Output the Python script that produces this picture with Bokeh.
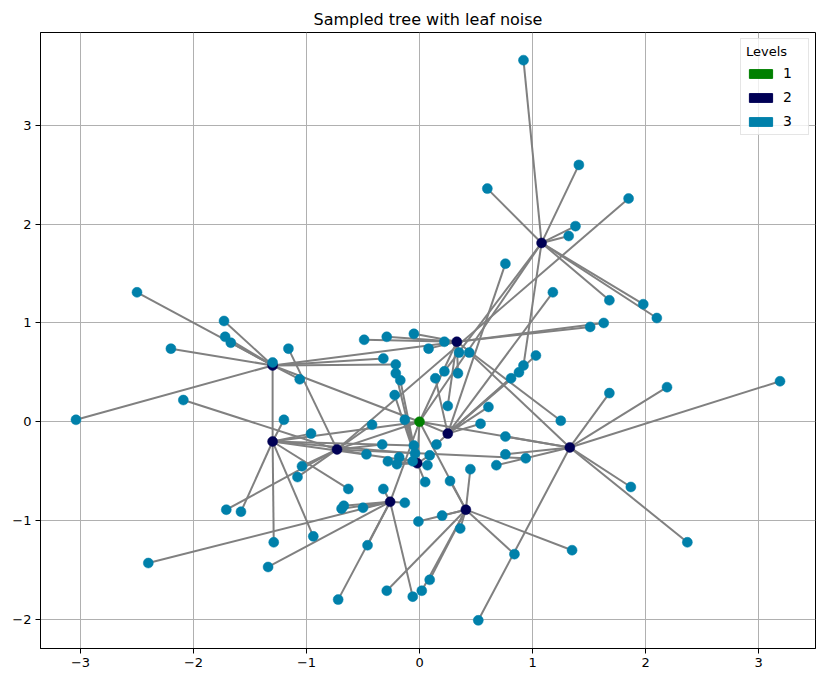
from bokeh.plotting import figure
from bokeh.models import Range1d, Legend, LegendItem, CustomJSTickFormatter, FixedTicker, Title
from bokeh.embed import file_html
from bokeh.resources import INLINE

# ---- data ----
root_x = [0.0]
root_y = [0.0]

mid_x = [1.08, 0.33, -1.30, -1.30, -0.73, 0.25, -0.02, 1.33, 0.41, -0.26]
mid_y = [1.81, 0.81, 0.57, -0.20, -0.28, -0.12, -0.42, -0.26, -0.89, -0.81]

leaf_x = [0.92, 1.41, 0.60, 1.85, 1.38, 1.32, 0.76, 1.18, 1.68, 1.98,
          2.10, 1.51, 1.63, -2.50, -1.73, -1.72, -1.67, -2.20, -1.16, -1.30,
          -0.49, -0.29, -0.05, 0.22, 0.08, 0.35, 0.44, 1.03, 0.92, 0.88,
          0.81, 0.22, 0.34, 0.14, -0.32, -0.21, -0.21, -0.17, -1.06, -0.22,
          0.25, 0.61, 1.68, 2.19, 3.19, -3.04, -2.09, -1.20, -0.13, -0.42,
          0.54, 1.25, -0.96, 0.76, -0.33, -0.05, 0.15, -0.47, -0.04, -0.18,
          -0.28, -0.20, -0.06, 0.09, 0.07, 0.76, 0.94, 0.68, 0.45, -1.04,
          -1.08, 0.05, 0.27, -0.63, -0.32, 1.87, -0.13, -0.50, -0.67, -0.69,
          -1.71, -1.58, -0.01, 0.20, 0.36, -0.94, -1.29, -0.46, 1.35, 0.84,
          2.37, -2.40, -1.34, 0.09, 0.02, -0.06, -0.29, -0.72, 0.52]
leaf_y = [3.66, 2.60, 2.36, 2.26, 1.98, 1.88, 1.60, 1.31, 1.23, 1.19,
          1.05, 0.96, 1.00, 1.31, 1.02, 0.86, 0.80, 0.74, 0.74, 0.60,
          0.83, 0.86, 0.89, 0.81, 0.74, 0.70, 0.70, 0.67, 0.57, 0.50,
          0.44, 0.51, 0.49, 0.44, 0.64, 0.58, 0.49, 0.42, 0.43, 0.27,
          0.16, 0.15, 0.29, 0.35, 0.41, 0.02, 0.22, 0.02, 0.02, -0.03,
          -0.02, 0.01, -0.12, -0.15, -0.23, -0.24, -0.23, -0.33, -0.32, -0.36,
          -0.40, -0.43, -0.40, -0.34, -0.44, -0.33, -0.37, -0.44, -0.48, -0.45,
          -0.56, -0.61, -0.60, -0.68, -0.68, -0.66, -0.82, -0.87, -0.85, -0.88,
          -0.89, -0.91, -1.01, -0.95, -1.08, -1.16, -1.22, -1.25, -1.30, -1.34,
          -1.22, -1.43, -1.47, -1.60, -1.71, -1.77, -1.71, -1.80, -2.01]
leaf_parent = [0, 0, 0, 4, 0, 0, 5, 5, 0, 0,
               0, 1, 2, 2, 2, 2, 2, 2, 4, 3,
               1, 1, 1, 1, 1, 1, 7, 5, 0, 5,
               5, 0, 1, 5, 2, 2, 6, 6, 2, 6,
               1, 5, 7, 7, 7, 2, 4, 3, 6, 4,
               5, 1, 3, 7, 4, 3, 5, 4, 3, 6,
               6, 6, 3, 6, 6, 7, 4, 7, 8, 4,
               4, 6, 8, 3, 9, 7, 9, 9, 9, 9,
               4, 3, 8, 8, 8, 3, 3, 9, 8, 8,
               7, 9, 9, 8, 8, 9, 8, 9, 7]

level_labels = ["1", "2", "3"]
level_colors = ["#008000", "#000055", "#0080AA"]

# ---- edges built from data ----
e_x0 = [root_x[0]] * len(mid_x) + [mid_x[k] for k in leaf_parent]
e_y0 = [root_y[0]] * len(mid_y) + [mid_y[k] for k in leaf_parent]
e_x1 = list(mid_x) + list(leaf_x)
e_y1 = list(mid_y) + list(leaf_y)

FONT = "DejaVu Sans"
NAN = float("nan")

p = figure(width=820, height=680, output_backend="svg", toolbar_location=None,
           x_range=Range1d(-3.354, 3.504), y_range=Range1d(-2.295, 3.94),
           min_border_left=40, min_border_right=5, min_border_top=32, min_border_bottom=32)

p.title = Title(text="Sampled tree with leaf noise", align="center",
                text_font=FONT, text_font_size="16px", text_font_style="normal",
                text_color="black", standoff=7, offset=0)

p.segment(x0=e_x0, y0=e_y0, x1=e_x1, y1=e_y1, line_color="#808080", line_width=2)

r1 = p.scatter(x=root_x, y=root_y, size=10, marker="circle",
               fill_color=level_colors[0], line_color=level_colors[0], line_width=0.5)
r2 = p.scatter(x=mid_x, y=mid_y, size=10, marker="circle",
               fill_color=level_colors[1], line_color=level_colors[1], line_width=0.5)
r3 = p.scatter(x=leaf_x, y=leaf_y, size=10, marker="circle",
               fill_color=level_colors[2], line_color=level_colors[2], line_width=0.5)

# legend patches (proxy glyphs, not visible in the plot area)
lg = []
for lab, col in zip(level_labels, level_colors):
    rr = p.quad(left=[NAN], right=[NAN], top=[NAN], bottom=[NAN],
                fill_color=col, line_color=col)
    lg.append(LegendItem(label=lab, renderers=[rr], index=0))

legend = Legend(items=lg, location="top_right", title="Levels",
                title_text_font=FONT, title_text_font_size="13px", title_text_font_style="normal",
                title_text_color="black",
                label_text_font=FONT, label_text_font_size="14px", label_text_color="black",
                glyph_width=29, glyph_height=11, label_standoff=8,
                spacing=8, padding=5, margin=6,
                border_line_color="#cccccc", border_line_width=1,
                background_fill_alpha=0.8, title_standoff=6)
p.add_layout(legend)

fmt = CustomJSTickFormatter(code="return (tick < 0 ? '\\u2212' : '') + Math.abs(tick).toFixed(0);")
for ax in (p.xaxis[0], p.yaxis[0]):
    ax.formatter = fmt
    ax.major_label_text_font = FONT
    ax.major_label_text_font_size = "13px"
    ax.major_label_text_color = "black"
    ax.axis_line_color = "black"
    ax.major_tick_line_color = "black"
    ax.major_tick_out = 5
    ax.major_tick_in = 0
    ax.minor_tick_line_color = None
    ax.major_label_standoff = 4

p.xaxis[0].ticker = FixedTicker(ticks=[-3, -2, -1, 0, 1, 2, 3])
p.yaxis[0].ticker = FixedTicker(ticks=[-2, -1, 0, 1, 2, 3])

p.grid.grid_line_color = "#b0b0b0"
p.grid.grid_line_width = 1
p.outline_line_color = "black"
p.outline_line_alpha = 1
p.outline_line_width = 1
p.background_fill_color = "white"
p.border_fill_color = "white"

with open("out.html", "w", encoding="utf-8") as f:
    f.write(file_html(p, INLINE))
